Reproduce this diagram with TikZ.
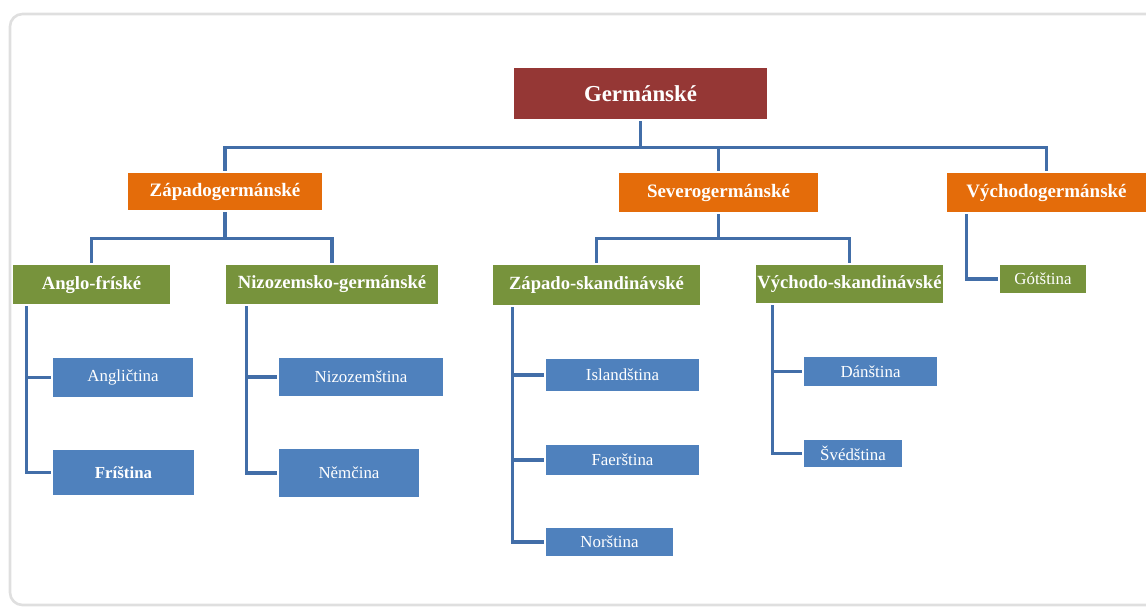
\documentclass[tikz,border=0pt]{standalone}
\usepackage{fontspec}
\setmainfont{Liberation Serif}
\usetikzlibrary{calc}

\definecolor{rootred}{RGB}{149,55,53}
\definecolor{kmenorange}{RGB}{228,108,10}
\definecolor{skupgreen}{RGB}{119,147,60}
\definecolor{jazykblue}{RGB}{79,129,189}
\definecolor{linkblue}{RGB}{66,110,168}

\tikzset{
    boxsize/.style 2 args={minimum width=#1*0.02cm, minimum height=#2*0.02cm},
    pole/.style={rectangle, inner sep=0pt, text=white},
    root/.style={pole, fill=rootred, font=\bfseries\fontsize{13}{15}\selectfont},
    kmen/.style={pole, fill=kmenorange, font=\bfseries\fontsize{10.8}{12}\selectfont},
    skupina/.style={pole, fill=skupgreen, font=\bfseries\fontsize{10.6}{12}\selectfont},
    jazyk/.style={pole, fill=jazykblue, font=\fontsize{9.6}{11}\selectfont},
    link/.style={draw=linkblue, line width=1.9pt, shorten <=1pt, shorten >=1.2pt}
}

\begin{document}
\begin{tikzpicture}[x=0.02cm, y=-0.02cm]
    \useasboundingbox (0,0) rectangle (1146,609);
    \draw[gray!25, line width=1.5pt, rounded corners=0.25cm] (10,14) rectangle (1180,605);

    %Root
    \node[root, boxsize={253}{51}] (ger) at (640.5,93.5) {Germánské};

    %Branches
    \node[kmen, boxsize={194}{37}] (zap) at (225,191.5) {Západogermánské};
    \node[kmen, boxsize={199}{39}] (sev) at (718.5,192.5) {Severogermánské};
    \node[kmen, boxsize={199}{39}] (vyc) at (1046.5,192.5) {Východogermánské};

    %Groups
    \node[skupina, boxsize={157}{39}] (angf) at (91.5,284.5) {Anglo-fríské};
    \node[skupina, boxsize={212}{39}] (nizg) at (332,284.5) {Nizozemsko-germánské};
    \node[skupina, boxsize={207}{40}] (zsk) at (596.5,285) {Západo-skandinávské};
    \node[skupina, boxsize={187}{38}] (vsk) at (849.5,284) {Východo-skandinávské};
    \node[skupina, boxsize={86}{28}, font=\fontsize{9.6}{11}\selectfont] (got) at (1043,279) {Gótština};

    %Languages
    \node[jazyk, boxsize={140}{39}] (angl) at (123,377.5) {Angličtina};
    \node[jazyk, boxsize={141}{45}, font=\bfseries\fontsize{9.6}{11}\selectfont] (fri) at (123.5,472.5) {Fríština};
    \node[jazyk, boxsize={164}{38}] (nizo) at (361,377) {Nizozemština};
    \node[jazyk, boxsize={140}{48}] (nem) at (349,473) {Němčina};
    \node[jazyk, boxsize={153}{32}] (isl) at (622.5,375) {Islandština};
    \node[jazyk, boxsize={153}{30}] (fae) at (622.5,460) {Faerština};
    \node[jazyk, boxsize={127}{28}] (nor) at (609.5,542) {Norština};
    \node[jazyk, boxsize={133}{29}] (dan) at (870.5,371.5) {Dánština};
    \node[jazyk, boxsize={98}{27}] (sve) at (853,453.5) {Švédština};

    %Connectors
    \draw[link] (ger.south) -- ++(0,28) -| (zap.north);
    \draw[link] (ger.south) -- ++(0,28) -| (sev.north);
    \draw[link] (ger.south) -- ++(0,28) -| (vyc.north);

    \draw[link] (zap.south) -- ++(0,28) -| (angf.north);
    \draw[link] (zap.south) -- ++(0,28) -| (nizg.north);
    \draw[link] (sev.south) -- ++(0,26) -| (zsk.north);
    \draw[link] (sev.south) -- ++(0,26) -| (vsk.north);
    \draw[link] ($(vyc.south west)+(20,0)$) |- (got.west);

    \draw[link] ($(angf.south west)+(14,0)$) |- (angl.west);
    \draw[link] ($(angf.south west)+(14,0)$) |- (fri.west);
    \draw[link] ($(nizg.south west)+(21,0)$) |- (nizo.west);
    \draw[link] ($(nizg.south west)+(21,0)$) |- (nem.west);
    \draw[link] ($(zsk.south west)+(20,0)$) |- (isl.west);
    \draw[link] ($(zsk.south west)+(20,0)$) |- (fae.west);
    \draw[link] ($(zsk.south west)+(20,0)$) |- (nor.west);
    \draw[link] ($(vsk.south west)+(17,0)$) |- (dan.west);
    \draw[link] ($(vsk.south west)+(17,0)$) |- (sve.west);
\end{tikzpicture}
\end{document}
